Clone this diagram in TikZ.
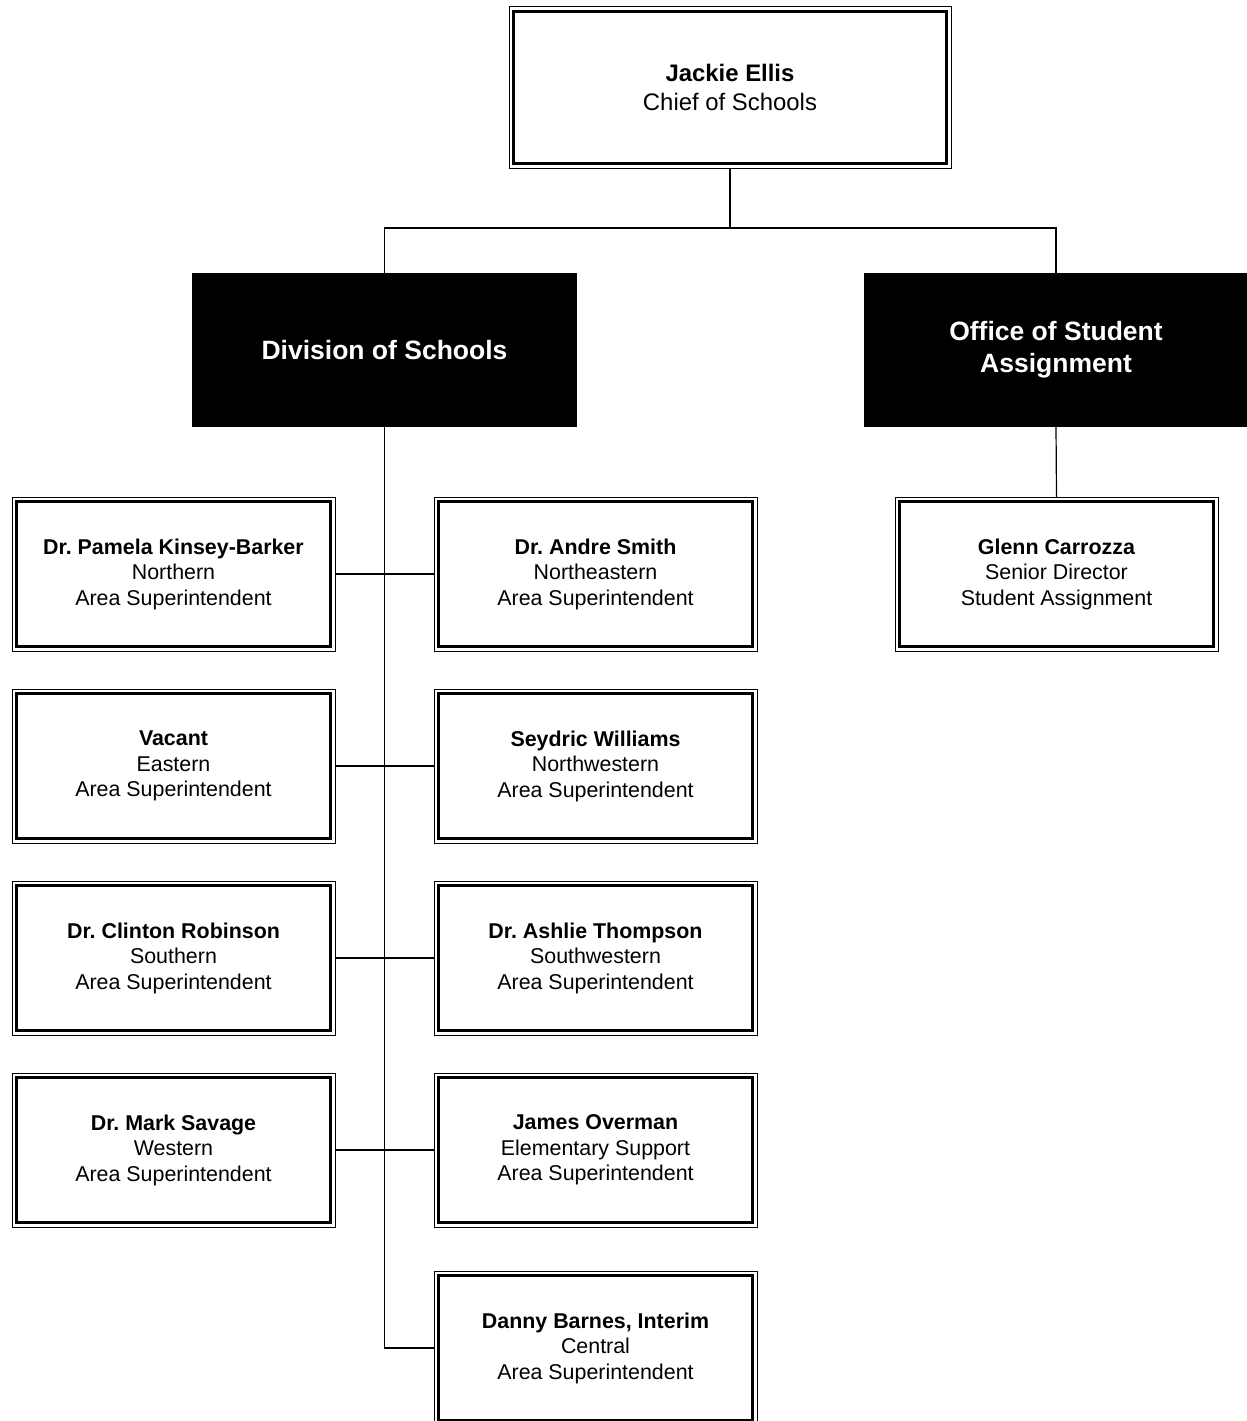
\documentclass[tikz,border=0pt]{standalone}
\usepackage{fontspec}
\setmainfont{Liberation Sans}
\usetikzlibrary{calc}
\frenchspacing
\tikzset{
  pbox/.style={draw, line width=1pt, minimum width=323pt, minimum height=154pt, inner sep=0pt, outer sep=0pt, align=center, font={\fontsize{21.4}{25.5}\selectfont}},
  topbox/.style={pbox, minimum width=442pt, minimum height=161pt, font={\fontsize{23.9}{29}\selectfont}},
  hdr/.style={fill=black, text=white, minimum height=154pt, inner sep=0pt, outer sep=0pt, align=center, font={\fontsize{26.5}{32}\selectfont\bfseries}},
  innerline/.style={line width=2.1pt},
  conn/.style={line width=1.2pt}
}
\newcommand{\innerborder}[1]{\draw[innerline] ($(#1.north west)+(4.5,4.5)$) rectangle ($(#1.south east)+(-4.5,-4.5)$);}
\begin{document}
\begin{tikzpicture}[x=1pt,y=-1pt]
\fill[white] (0,0) rectangle (1247,1421);
\useasboundingbox (0,0) rectangle (1247,1421);

\node[topbox] (top) at (730,87.5) {\textbf{Jackie Ellis}\\Chief of Schools};
\innerborder{top}

\node[hdr, minimum width=385pt] (div) at (384.5,350) {Division of Schools};
\node[hdr, minimum width=384pt] (off) at (1056,350) {Office of Student\\Assignment};

\node[pbox] (glenn) at (1056.5,574) {\textbf{Glenn Carrozza}\\Senior Director\\Student Assignment};
\innerborder{glenn}

\node[pbox] (l1) at (173.5,574) {\textbf{Dr. Pamela Kinsey-Barker}\\Northern\\Area Superintendent};
\node[pbox] (r1) at (595.5,574) {\textbf{Dr. Andre Smith}\\Northeastern\\Area Superintendent};
\node[pbox] (l2) at (173.5,766) {\textbf{Vacant}\\Eastern\\Area Superintendent};
\node[pbox] (r2) at (595.5,766) {\textbf{Seydric Williams}\\Northwestern\\Area Superintendent};
\node[pbox] (l3) at (173.5,958) {\textbf{Dr. Clinton Robinson}\\Southern\\Area Superintendent};
\node[pbox] (r3) at (595.5,958) {\textbf{Dr. Ashlie Thompson}\\Southwestern\\Area Superintendent};
\node[pbox] (l4) at (173.5,1150) {\textbf{Dr. Mark Savage}\\Western\\Area Superintendent};
\node[pbox] (r4) at (595.5,1150) {\textbf{James Overman}\\Elementary Support\\Area Superintendent};
\node[pbox] (r5) at (595.5,1348) {\textbf{Danny Barnes, Interim}\\Central\\Area Superintendent};
\foreach \n in {l1,r1,l2,r2,l3,r3,l4,r4,r5} {\innerborder{\n}}

\coordinate (j) at (730,228);
\draw[conn] (top.south) -- (j);
\draw[conn] (div.north) -- (div.north |- j) -- (off.north |- j) -- (off.north);
\draw[conn] (off.south) -- (glenn.north);
\draw[conn] (div.south) |- (r5.west);
\draw[conn] (l1.east) -- (r1.west);
\draw[conn] (l2.east) -- (r2.west);
\draw[conn] (l3.east) -- (r3.west);
\draw[conn] (l4.east) -- (r4.west);
\end{tikzpicture}
\end{document}
